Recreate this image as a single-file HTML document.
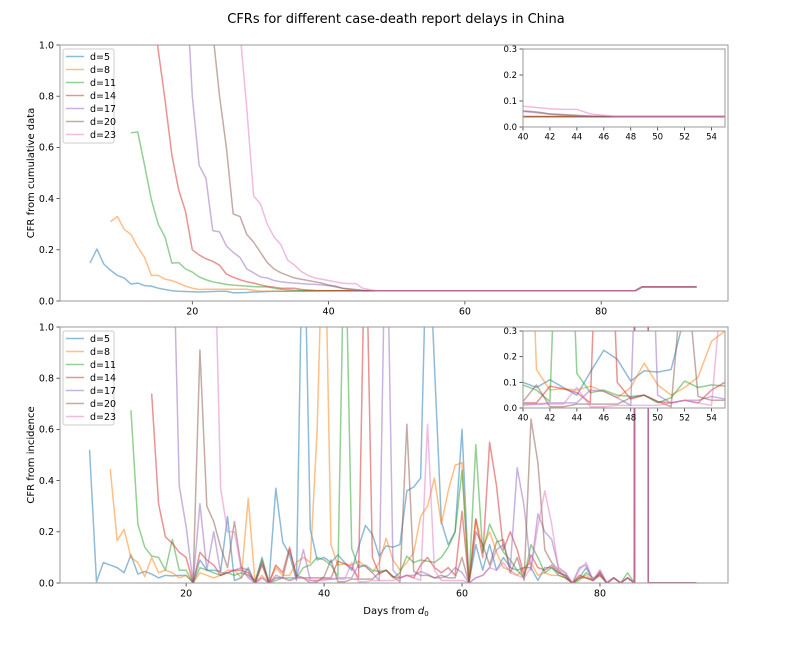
<!DOCTYPE html>
<html><head><meta charset="utf-8"><style>
body{margin:0;background:#fff;}
svg{display:block;font-family:"DejaVu Sans","Liberation Sans",sans-serif;}
</style></head><body>
<svg id="fig" width="792" height="648" viewBox="0 0 792 648">
<text x="396" y="23" font-size="13" text-anchor="middle">CFRs for different case-death report delays in China</text>
<text x="396" y="614" font-size="10" text-anchor="middle">Days from <tspan font-style="italic">d</tspan><tspan font-size="7" dy="2">0</tspan></text>
<text transform="translate(34,173) rotate(-90)" font-size="10" text-anchor="middle">CFR from cumulative data</text>
<text transform="translate(34,455) rotate(-90)" font-size="10" text-anchor="middle">CFR from incidence</text>
</svg>
<script>
// ===== data =====
const delays = ["d=5","d=8","d=11","d=14","d=17","d=20","d=23"];
const colors = ["#1f77b4","#ff7f0e","#2ca02c","#d62728","#9467bd","#8c564b","#e377c2"];
const xTicks = [20,40,60,80];
const yTicks = [0,0.2,0.4,0.6,0.8,1.0];
const insetXTicks = [40,42,44,46,48,50,52,54];
const insetYTicks = [0,0.1,0.2,0.3];

// cumulative CFR: start days and head values (through ~day 46), shared tail from day 47 to 94
const cumStart = [5,8,11,14,19,22,26];
const cum5 = [0.148,0.203,0.145,0.12,0.10,0.09,0.066,0.07,0.06,0.058,0.05,0.045,0.04,0.038,0.037,0.036,0.035,0.036,0.037,0.038,0.038,0.032,0.032,0.033,0.035,0.036,0.037,0.038,0.038,0.038,0.039,0.039,0.039,0.04,0.04,0.04,0.04,0.04,0.04,0.04,0.04,0.04];
const cum8 = [0.31,0.33,0.28,0.26,0.21,0.17,0.10,0.10,0.085,0.08,0.07,0.058,0.05,0.045,0.046,0.046,0.046,0.046,0.046,0.046,0.046,0.042,0.038,0.038,0.038,0.038,0.038,0.038,0.038,0.039,0.039,0.04,0.04,0.04,0.04,0.04,0.04,0.04,0.04];
const cum11 = [0.657,0.66,0.53,0.395,0.30,0.25,0.148,0.15,0.125,0.113,0.094,0.083,0.075,0.07,0.065,0.062,0.06,0.058,0.056,0.055,0.055,0.05,0.046,0.044,0.042,0.041,0.04,0.04,0.04,0.04,0.04,0.04,0.04,0.04,0.04,0.04];
const cum14 = [1.2,0.98,0.785,0.57,0.434,0.35,0.2,0.18,0.165,0.155,0.14,0.105,0.093,0.083,0.075,0.07,0.063,0.057,0.054,0.05,0.05,0.05,0.045,0.043,0.041,0.04,0.04,0.04,0.04,0.04,0.04,0.04,0.04];
const cum17 = [1.3,0.8,0.53,0.48,0.275,0.27,0.215,0.19,0.17,0.125,0.11,0.094,0.09,0.08,0.075,0.072,0.07,0.068,0.066,0.065,0.063,0.06,0.055,0.05,0.045,0.042,0.04,0.04];
const cum20 = [1.5,1.05,0.8,0.6,0.34,0.33,0.26,0.23,0.19,0.15,0.125,0.11,0.1,0.09,0.085,0.08,0.075,0.07,0.062,0.058,0.05,0.048,0.045,0.042,0.04];
const cum23 = [1.8,1.05,0.75,0.41,0.38,0.3,0.25,0.22,0.16,0.14,0.115,0.1,0.09,0.085,0.08,0.075,0.07,0.068,0.068,0.05,0.045];
const cumTailStart = 47;
const cumTail = [0.04,0.04,0.04,0.04,0.04,0.04,0.04,0.04,0.04,0.04,
 0.04,0.04,0.04,0.04,0.04,0.04,0.04,0.04,0.04,0.04,
 0.04,0.04,0.04,0.04,0.04,0.04,0.04,0.04,0.04,0.04,
 0.04,0.04,0.04,0.04,0.04,0.04,0.04,0.04,0.04,
 0.055,0.055,0.055,0.055,0.055,0.055,0.055,0.055,0.055];

// incidence CFR: start days and values through day 94
const incStart = [6,9,12,15,18,21,24];
const inc5 = [0.52,0.005,0.08,0.07,0.06,0.04,0.11,0.035,0.045,0.035,
 0.02,0.03,0.028,0.03,0.03,0.003,0.09,0.05,0.05,0.045,
 0.26,0.01,0.02,0.06,0.0,0.10,0.0,0.37,0.16,0.11,
 0.01,1.6,0.21,0.09,0.1,0.08,0.11,0.08,0.05,0.14,
 0.225,0.19,0.105,0.145,0.14,0.15,0.36,0.375,0.41,1.5,
 0.85,0.24,0.15,0.2,0.6,0.0,0.15,0.05,0.15,0.05,
 0.1,0.06,0.05,0.06,0.06,0.01,0.06,0.06,0.04,0.03,
 0.0,0.02,0.06,0.01,0.04,0.0,0.02,0.0,0.02,0.0,
 1000,0,0,0,0,0,0,0,0];
const inc8 = [0.445,0.165,0.21,0.1,0.08,0.025,0.1,0.04,0.05,0.04,0.02,0.03,
 0.0,0.04,0.03,0.02,0.03,0.05,0.05,0.02,0.33,0.0,
 0.03,0.0,0.06,0.03,0.03,0.08,0.1,0.08,0.6,1.6,
 0.15,0.07,0.075,0.07,0.085,0.065,0.04,0.08,0.175,0.09,
 0.05,0.08,0.12,0.26,0.3,0.41,0.23,0.36,0.46,0.47,
 0.0,0.25,0.14,0.2,0.12,0.06,0.05,0.03,0.06,0.08,
 0.03,0.04,0.03,0.03,0.02,0.0,0.02,0.03,0.01,0.04,
 0.0,0.02,0.0,0.02,0.0,
 1000,0,0,0,0,0,0,0,0];
const inc11 = [0.675,0.23,0.14,0.105,0.1,0.05,0.17,0.05,0.05,
 0.0,0.06,0.05,0.04,0.03,0.04,0.03,0.04,0.03,0.01,
 0.09,0.0,0.01,0.02,0.02,0.02,0.06,0.07,0.1,0.09,
 0.07,0.025,1.5,0.135,0.06,0.07,0.05,0.045,0.05,0.02,
 0.04,0.105,0.08,0.09,0.085,0.08,0.1,0.14,0.2,0.44,
 0.0,0.54,0.12,0.23,0.17,0.12,0.09,0.05,0.02,0.15,
 0.1,0.04,0.06,0.03,0.02,0.0,0.01,0.04,0.02,0.03,
 0.0,0.02,0.0,0.04,0.0,
 1000,0,0,0,0,0,0,0,0];
const inc14 = [0.74,0.31,0.18,0.155,0.12,0.1,
 0.0,0.12,0.09,0.07,0.03,0.04,0.05,0.05,0.04,0.0,
 0.08,0.0,0.07,0.04,0.14,0.02,0.02,0.02,0.02,0.02,
 0.02,0.085,0.075,0.06,0.02,1.5,0.1,0.035,0.05,0.025,
 0.02,0.03,0.02,0.07,0.1,0.06,0.04,0.06,0.03,0.28,
 0.0,0.25,0.1,0.55,0.38,0.13,0.2,0.13,0.03,0.11,
 0.06,0.05,0.07,0.04,0.03,0.0,0.03,0.02,0.01,0.03,
 0.0,0.02,0.0,0.02,0.0,
 1000,0,0,0,0,0,0,0,0];
const inc17 = [1.5,0.38,0.22,
 0.0,0.31,0.05,0.2,0.04,0.04,0.05,0.06,0.02,0.0,
 0.02,0.0,0.03,0.02,0.01,0.02,0.13,0.01,0.01,0.015,
 0.015,0.02,0.02,0.02,0.07,0.065,0.04,0.01,1.6,0.05,
 0.02,0.03,0.03,0.045,0.035,0.02,0.02,0.03,0.06,0.04,
 0.0,0.02,0.03,0.06,0.13,0.15,0.06,0.45,0.3,0.05,
 0.27,0.2,0.17,0.06,0.04,0.0,0.06,0.07,0.01,0.05,
 0.0,0.02,0.0,0.02,0.0,
 1000,0,0,0,0,0,0,0,0];
const inc20 = [0.0,0.91,0.3,0.24,0.14,0.06,0.24,0.06,0.05,0.0,
 0.07,0.0,0.02,0.02,0.13,0.03,0.02,0.0,0.005,0.025,
 0.09,0.005,0.005,0.015,0.015,0.015,0.015,0.04,0.05,0.025,
 0.005,0.62,0.045,0.03,0.03,0.02,0.03,0.02,0.02,0.1,
 0.0,0.2,0.15,0.07,0.16,0.17,0.04,0.1,0.01,0.64,
 0.47,0.13,0.08,0.05,0.02,0.0,0.02,0.02,0.01,0.04,
 0.0,0.02,0.0,0.02,0.0,
 1000,0,0,0,0,0,0,0,0];
const inc23 = [1.5,0.37,0.2,0.2,0.05,0.03,0.0,
 0.02,0.0,0.02,0.02,0.01,0.02,0.02,0.01,0.01,0.01,
 0.015,0.015,0.015,0.08,0.005,0.005,0.01,0.01,0.01,0.01,
 0.02,0.03,0.02,0.01,0.62,0.05,0.01,0.01,0.01,0.01,
 0.0,0.02,0.03,0.06,0.05,0.08,0.04,0.03,0.02,0.06,
 0.22,0.36,0.23,0.05,0.04,0.0,0.05,0.08,0.01,0.05,
 0.0,0.02,0.0,0.02,0.0,
 1000,0,0,0,0,0,0,0,0];

const cumSeries = [cum5,cum8,cum11,cum14,cum17,cum20,cum23];
const incSeries = [inc5,inc8,inc11,inc14,inc17,inc20,inc23];

// ===== drawing =====
const NS = "http://www.w3.org/2000/svg";
const svg = document.getElementById("fig");
function mk(tag, attrs, parent){
  const e = document.createElementNS(NS, tag);
  for (const k in attrs) e.setAttribute(k, attrs[k]);
  (parent||svg).appendChild(e);
  return e;
}
const defs = mk("defs", {});
let clipId = 0;

function buildAxes(name, box, xScale, yScale, seriesPts, opts){
  const id = "clip" + (clipId++);
  const cp = mk("clipPath", {id: id}, defs);
  mk("rect", {x: box.l, y: box.t, width: box.r - box.l, height: box.b - box.t}, cp);
  const g = mk("g", {});
  
  
  mk("rect", {x: box.l, y: box.t, width: box.r - box.l, height: box.b - box.t, fill: "#fff"}, g);
  const lines = mk("g", {"clip-path": "url(#" + id + ")"}, g);
  seriesPts.forEach((pts, i) => {
    const p = mk("polyline", {points: pts.map(q => xScale(q[0]).toFixed(2) + "," + yScale(q[1]).toFixed(2)).join(" "),
      fill: "none", stroke: colors[i], "stroke-opacity": 0.5, "stroke-width": 1.5, "stroke-linejoin": "round"}, lines);
    
    
  });
  const fs = opts.fs;
  opts.xt.forEach(t => {
    const x = xScale(t);
    mk("line", {x1: x, x2: x, y1: box.b, y2: box.b + 3.5, stroke: "#333", "stroke-width": 0.8}, g);
    const tx = mk("text", {x: x, y: box.b + 4 + fs, "font-size": fs, "text-anchor": "middle", fill: "#000"}, g);
    tx.textContent = t;
    
    
  });
  opts.yt.forEach(t => {
    const y = yScale(t);
    mk("line", {x1: box.l - 3.5, x2: box.l, y1: y, y2: y, stroke: "#333", "stroke-width": 0.8}, g);
    const tx = mk("text", {x: box.l - 6, y: y + fs * 0.35, "font-size": fs, "text-anchor": "end", fill: "#000"}, g);
    tx.textContent = t.toFixed(1);
    
    
  });
  mk("rect", {x: box.l, y: box.t, width: box.r - box.l, height: box.b - box.t, fill: "none", stroke: "#999", "stroke-width": 1}, g);
  return g;
}

function legend(name, x, y, rowH){
  const g = mk("g", {});
  
  
  mk("rect", {x: x, y: y, width: 51, height: rowH * 7 + 3, rx: 2, fill: "#fff", "fill-opacity": 0.8, stroke: "#ccc", "stroke-width": 1}, g);
  delays.forEach((d, i) => {
    const cy = y + 7.5 + i * rowH;
    const e = mk("g", {}, g);
    
    
    mk("line", {x1: x + 3, x2: x + 21, y1: cy, y2: cy, stroke: colors[i], "stroke-opacity": 0.5, "stroke-width": 1.5}, e);
    const t = mk("text", {x: x + 27, y: cy + 3.5, "font-size": 9.5}, e);
    t.textContent = d;
  });
}

function toPts(vals, start){ return vals.map((v, i) => [start + i, v]); }
const cumPts = cumSeries.map((s, i) => toPts(s, cumStart[i]).concat(toPts(cumTail, cumTailStart)));
const incPts = incSeries.map((s, i) => toPts(s, incStart[i]));

// top main axes
const topBox = {l: 60, r: 728, t: 45, b: 301};
const tx = d => 56 + 6.815 * d;
const ty = v => 301 - v * 256;
buildAxes("top-axes", topBox, tx, ty, cumPts, {xt: xTicks, yt: yTicks, fs: 9.5});
legend("top-legend", 63, 49, 13);

// bottom main axes
const botBox = {l: 60, r: 728, t: 327, b: 583};
const bx = d => 48.2 + 6.897 * d;
const by = v => 583 - v * 256;
buildAxes("bottom-axes", botBox, bx, by, incPts, {xt: xTicks, yt: yTicks, fs: 9.5});
legend("bottom-legend", 63, 331, 13);

// insets
const ix = d => 523 + (d - 40) * 202 / 15;
const tInsetBox = {l: 523, r: 725, t: 49, b: 127};
const tiy = v => 127 - v * 78 / 0.3;
buildAxes("top-inset", tInsetBox, ix, tiy, cumPts, {xt: insetXTicks, yt: insetYTicks, fs: 8.5});
const bInsetBox = {l: 523, r: 725, t: 331, b: 408};
const biy = v => 408 - v * 77 / 0.3;
buildAxes("bottom-inset", bInsetBox, ix, biy, incPts, {xt: insetXTicks, yt: insetYTicks, fs: 8.5});
</script>
</body></html>
